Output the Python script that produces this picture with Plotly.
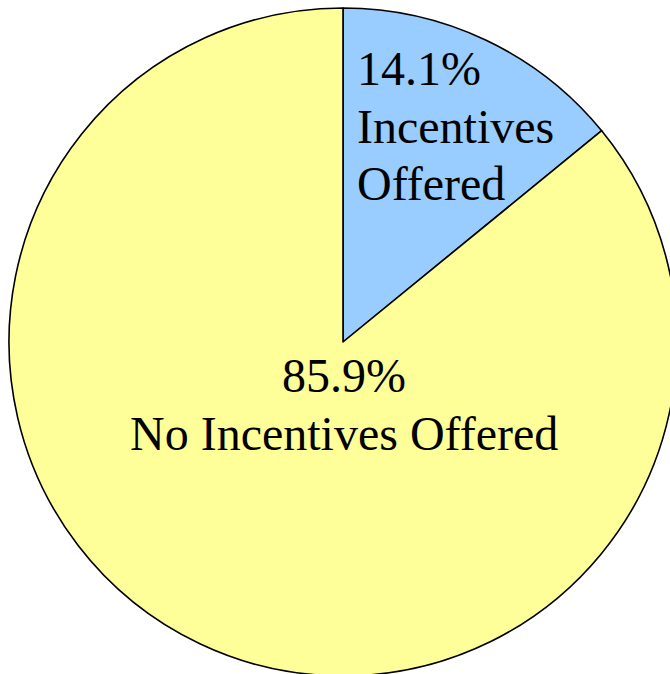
import plotly.graph_objects as go

# Data
categories = ["Incentives Offered", "No Incentives Offered"]
values = [14.1, 85.9]
slice_colors = ["#99CCFF", "#FFFF99"]

# Layout constants (pixels)
W, H = 677, 676
ML, MT = 9, 8
PW, PH = W - ML, H - MT

def px_to_paper(px, py):
    return (px - ML) / PW, 1 - (py - MT) / PH

fig = go.Figure(
    go.Pie(
        labels=categories,
        values=values,
        sort=False,
        direction="clockwise",
        rotation=0,
        marker=dict(colors=slice_colors, line=dict(color="black", width=1.6)),
        textinfo="none",
        hoverinfo="label+percent",
        showlegend=False,
    )
)

font = dict(family="Liberation Serif, Times New Roman, serif", size=48, color="black")

# Label lines for each slice
blue_lines = [f"{values[0]:.1f}%"] + categories[0].split(" ")
yellow_lines = [f"{values[1]:.1f}%", categories[1]]

annotations = []
blue_x = 355
blue_y = [68, 126, 183]
for line, py in zip(blue_lines, blue_y):
    x, y = px_to_paper(blue_x, py)
    annotations.append(dict(text=line, x=x, y=y, xref="paper", yref="paper",
                            xanchor="left", yanchor="middle", showarrow=False, font=font))
yellow_x = 344
yellow_y = [375, 433]
for line, py in zip(yellow_lines, yellow_y):
    x, y = px_to_paper(yellow_x, py)
    annotations.append(dict(text=line, x=x, y=y, xref="paper", yref="paper",
                            xanchor="center", yanchor="middle", showarrow=False, font=font))

fig.update_layout(
    width=W, height=H, autosize=False,
    margin=dict(l=ML, r=0, t=MT, b=0, pad=0),
    paper_bgcolor="white", plot_bgcolor="white",
    annotations=annotations,
)

fig.write_html(
    "out.html",
    post_script="document.body.style.overflow='hidden';document.documentElement.style.overflow='hidden';document.body.style.margin='0';",
)
